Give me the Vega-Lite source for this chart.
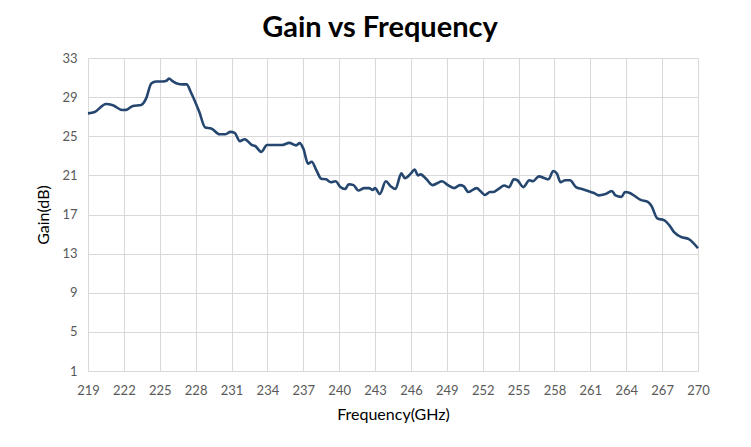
{
  "$schema": "https://vega.github.io/schema/vega-lite/v6.json",
  "width": 610,
  "height": 313,
  "autosize": "none",
  "padding": {"left": 88, "top": 58, "right": 53, "bottom": 76},
  "background": "white",
  "title": {"text": "Gain vs Frequency", "font": "Lato", "fontSize": 29, "fontWeight": "bold", "color": "#000000", "offset": 9, "dx": -13},
  "config": {"view": {"stroke": null}},
  "data": {"values": [
    {"f": 219.0, "g": 27.34}, {"f": 219.56, "g": 27.48}, {"f": 220.5, "g": 28.3}, {"f": 221.08, "g": 28.17},
    {"f": 221.86, "g": 27.69}, {"f": 222.2, "g": 27.7}, {"f": 222.75, "g": 28.1}, {"f": 223.45, "g": 28.2},
    {"f": 223.87, "g": 28.9}, {"f": 224.29, "g": 30.4}, {"f": 224.7, "g": 30.6}, {"f": 225.26, "g": 30.6},
    {"f": 225.6, "g": 30.7}, {"f": 225.76, "g": 30.9}, {"f": 226.1, "g": 30.6}, {"f": 226.5, "g": 30.36},
    {"f": 226.9, "g": 30.3}, {"f": 227.25, "g": 30.3}, {"f": 227.6, "g": 29.5}, {"f": 228.3, "g": 27.5},
    {"f": 228.8, "g": 25.9}, {"f": 229.3, "g": 25.8}, {"f": 230.0, "g": 25.2}, {"f": 230.5, "g": 25.2},
    {"f": 230.9, "g": 25.45}, {"f": 231.26, "g": 25.35}, {"f": 231.7, "g": 24.5}, {"f": 232.1, "g": 24.7},
    {"f": 232.7, "g": 24.1}, {"f": 232.97, "g": 24.0}, {"f": 233.5, "g": 23.4}, {"f": 233.96, "g": 24.1},
    {"f": 234.66, "g": 24.1}, {"f": 235.2, "g": 24.1}, {"f": 235.83, "g": 24.32}, {"f": 236.4, "g": 24.07},
    {"f": 236.7, "g": 24.3}, {"f": 237.0, "g": 23.74}, {"f": 237.4, "g": 22.2}, {"f": 237.7, "g": 22.4},
    {"f": 238.1, "g": 21.5}, {"f": 238.5, "g": 20.66}, {"f": 238.9, "g": 20.6}, {"f": 239.3, "g": 20.3},
    {"f": 239.7, "g": 20.4}, {"f": 240.1, "g": 19.8}, {"f": 240.5, "g": 19.6}, {"f": 240.8, "g": 20.1},
    {"f": 241.2, "g": 20.0}, {"f": 241.6, "g": 19.45}, {"f": 242.1, "g": 19.7}, {"f": 242.5, "g": 19.7},
    {"f": 242.8, "g": 19.5}, {"f": 243.0, "g": 19.7}, {"f": 243.4, "g": 19.1}, {"f": 243.9, "g": 20.4},
    {"f": 244.3, "g": 19.9}, {"f": 244.7, "g": 19.6}, {"f": 245.2, "g": 21.2}, {"f": 245.5, "g": 20.7},
    {"f": 246.0, "g": 21.2}, {"f": 246.3, "g": 21.6}, {"f": 246.6, "g": 21.0}, {"f": 246.8, "g": 21.1},
    {"f": 247.3, "g": 20.6}, {"f": 247.8, "g": 20.0}, {"f": 248.2, "g": 20.2}, {"f": 248.6, "g": 20.4},
    {"f": 249.1, "g": 20.0}, {"f": 249.6, "g": 19.7}, {"f": 250.1, "g": 20.0}, {"f": 250.4, "g": 19.9},
    {"f": 250.8, "g": 19.3}, {"f": 251.5, "g": 19.7}, {"f": 251.8, "g": 19.4}, {"f": 252.2, "g": 19.0},
    {"f": 252.6, "g": 19.3}, {"f": 252.9, "g": 19.3}, {"f": 253.3, "g": 19.6}, {"f": 253.8, "g": 19.96},
    {"f": 254.2, "g": 19.8}, {"f": 254.6, "g": 20.6}, {"f": 254.9, "g": 20.5}, {"f": 255.4, "g": 19.8},
    {"f": 255.9, "g": 20.5}, {"f": 256.2, "g": 20.4}, {"f": 256.7, "g": 20.9}, {"f": 257.2, "g": 20.7},
    {"f": 257.5, "g": 20.6}, {"f": 257.9, "g": 21.45}, {"f": 258.2, "g": 21.2}, {"f": 258.5, "g": 20.3},
    {"f": 258.9, "g": 20.5}, {"f": 259.3, "g": 20.5}, {"f": 259.8, "g": 19.8}, {"f": 260.3, "g": 19.6},
    {"f": 260.8, "g": 19.4}, {"f": 261.3, "g": 19.2}, {"f": 261.7, "g": 18.96}, {"f": 262.2, "g": 19.06},
    {"f": 262.8, "g": 19.4}, {"f": 263.1, "g": 18.96}, {"f": 263.6, "g": 18.8}, {"f": 263.9, "g": 19.3},
    {"f": 264.3, "g": 19.2}, {"f": 264.7, "g": 18.9}, {"f": 265.2, "g": 18.5}, {"f": 265.8, "g": 18.3},
    {"f": 266.1, "g": 17.9}, {"f": 266.6, "g": 16.6}, {"f": 267.2, "g": 16.4}, {"f": 267.6, "g": 15.9},
    {"f": 268.0, "g": 15.2}, {"f": 268.6, "g": 14.7}, {"f": 269.2, "g": 14.5}, {"f": 269.6, "g": 14.1},
    {"f": 270.0, "g": 13.55}
  ]},
  "mark": {"type": "line", "color": "#25466f", "strokeWidth": 2.6, "interpolate": "monotone"},
  "encoding": {
    "x": {
      "field": "f", "type": "quantitative",
      "scale": {"domain": [219, 270], "nice": false, "zero": false},
      "axis": {
        "title": "Frequency(GHz)", "values": [219,222,225,228,231,234,237,240,243,246,249,252,255,258,261,264,267,270],
        "grid": true, "gridColor": "#d9d9d9", "gridWidth": 1, "domainColor": "#d9d9d9", "ticks": false,
        "labelFlush": false, "labelOverlap": false, "labelBound": false,
        "labelFont": "Lato", "labelFontSize": 13, "labelColor": "#595959", "labelPadding": 13,
        "titleFont": "Lato", "titleFontSize": 16, "titleFontWeight": "normal", "titleColor": "#000000", "titlePadding": 9
      }
    },
    "y": {
      "field": "g", "type": "quantitative",
      "scale": {"domain": [1, 33], "nice": false, "zero": false},
      "axis": {
        "title": "Gain(dB)", "values": [1,5,9,13,17,21,25,29,33],
        "grid": true, "gridColor": "#d9d9d9", "gridWidth": 1, "domain": false, "ticks": false,
        "labelFlush": false, "labelOverlap": false,
        "labelFont": "Lato", "labelFontSize": 13, "labelColor": "#595959", "labelPadding": 11,
        "titleFont": "Lato", "titleFontSize": 16, "titleFontWeight": "normal", "titleColor": "#000000", "titlePadding": 10
      }
    }
  }
}
